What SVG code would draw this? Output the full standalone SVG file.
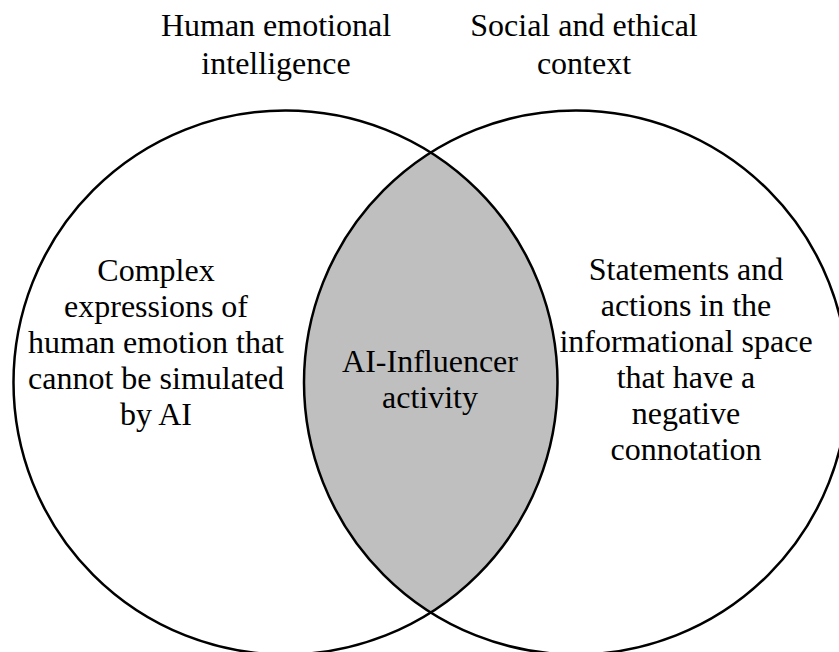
<svg xmlns="http://www.w3.org/2000/svg" width="839" height="652" viewBox="0 0 839 652">
<style>
.c{fill:none;stroke:#000;stroke-width:2.5}
.lens{fill:#bfbfbf;stroke:none}
text{font-family:"Liberation Serif","Times New Roman","DejaVu Serif",serif;font-size:32px;fill:#000;text-anchor:middle}
</style>
<defs>
<clipPath id="clipL"><circle cx="285.5" cy="382.5" r="272"/></clipPath>
</defs>
<rect width="839" height="652" fill="#fff"/>
<g id="intersection">
<circle class="lens" cx="576" cy="382.5" r="272" clip-path="url(#clipL)"/>
</g>
<g id="circle-left">
<circle class="c" cx="285.5" cy="382.5" r="272"/>
</g>
<g id="circle-right">
<circle class="c" cx="576" cy="382.5" r="272"/>
</g>
<g id="label-left-title">
<text x="276" y="36">Human emotional</text>
<text x="276" y="74">intelligence</text>
</g>
<g id="label-right-title">
<text x="584" y="36">Social and ethical</text>
<text x="584" y="74">context</text>
</g>
<g id="label-left">
<text x="156" y="281">Complex</text>
<text x="156" y="317">expressions of</text>
<text x="156" y="353">human emotion that</text>
<text x="156" y="389">cannot be simulated</text>
<text x="156" y="425">by AI</text>
</g>
<g id="label-center">
<text x="430" y="372">AI-Influencer</text>
<text x="430" y="408">activity</text>
</g>
<g id="label-right">
<text x="686" y="280">Statements and</text>
<text x="686" y="316">actions in the</text>
<text x="686" y="352">informational space</text>
<text x="686" y="388">that have a</text>
<text x="686" y="424">negative</text>
<text x="686" y="460">connotation</text>
</g>
<g id="connectors"></g>
</svg>
